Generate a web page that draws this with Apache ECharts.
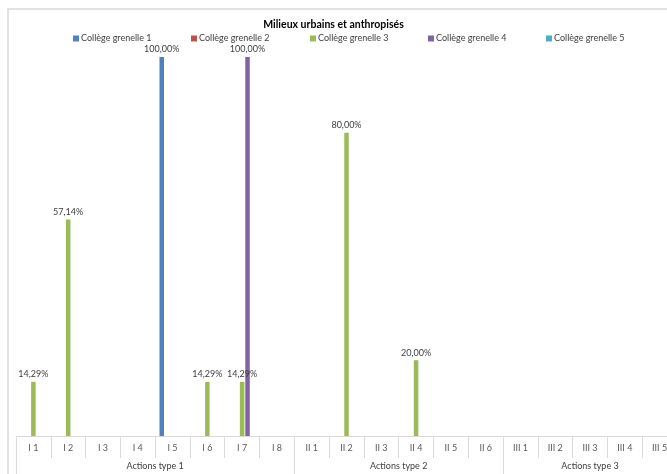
<!DOCTYPE html>
<html>
<head>
<meta charset="utf-8">
<script src="https://cdn.jsdelivr.net/npm/echarts@6/dist/echarts.min.js"></script>
<style>
  html, body { margin: 0; padding: 0; background: #fff; }
  #chart { width: 667px; height: 474px; }
</style>
</head>
<body>
<div id="chart"></div>
<script>
// Action categories along the bottom axis
const categories = ['I 1', 'I 2', 'I 3', 'I 4', 'I 5', 'I 6', 'I 7', 'I 8',
  'II 1', 'II 2', 'II 3', 'II 4', 'II 5', 'II 6',
  'III 1', 'III 2', 'III 3', 'III 4', 'III 5'];

// Action groups: name and number of categories in each
const groupNames = ['Actions type 1', 'Actions type 2', 'Actions type 3'];
const groupSizes = [8, 6, 5];

// Share per school (percent), null where there is no bar
const college1 = [null, null, null, null, 100, null, null, null, null, null, null, null, null, null, null, null, null, null, null];
const college2 = [null, null, null, null, null, null, null, null, null, null, null, null, null, null, null, null, null, null, null];
const college3 = [14.29, 57.14, null, null, null, 14.29, 14.29, null, null, 80, null, 20, null, null, null, null, null, null, null];
const college4 = [null, null, null, null, null, null, 100, null, null, null, null, null, null, null, null, null, null, null, null];
const college5 = [null, null, null, null, null, null, null, null, null, null, null, null, null, null, null, null, null, null, null];

const seriesNames = ['Collège grenelle 1', 'Collège grenelle 2', 'Collège grenelle 3', 'Collège grenelle 4', 'Collège grenelle 5'];
const seriesData = [college1, college2, college3, college4, college5];
const colors = ['#4F81BD', '#C0504D', '#9BBB59', '#8064A2', '#4BACC6'];

// Group boundaries and centres on a 0..N scale
const boundaries = [0];
const centres = [];
groupSizes.forEach(function (n) {
  const start = boundaries[boundaries.length - 1];
  centres.push(start + n / 2);
  boundaries.push(start + n);
});

const FONT = 'Lato, "Open Sans", sans-serif';

// one legend entry per slot, evenly spaced along the top
const LEGEND_LEFT = 73;
const LEGEND_STEP = 118.3;

const chart = echarts.init(document.getElementById('chart'));
chart.setOption({
  backgroundColor: '#ffffff',
  animation: false,
  color: colors,
  graphic: [{
    type: 'rect',
    shape: { x: 8, y: 9, width: 720, height: 520 },
    style: { fill: 'none', stroke: '#d9d9d9', lineWidth: 1.5 },
    silent: true
  }],
  title: {
    text: 'Milieux urbains et anthropisés',
    left: 'center',
    top: 14,
    textStyle: { fontFamily: FONT, fontSize: 10.5, fontWeight: 'bold', color: '#000' }
  },
  legend: seriesNames.map(function (name, i) {
    return {
      top: 34,
      left: Math.round(LEGEND_LEFT + i * LEGEND_STEP),
      padding: 0,
      itemWidth: 6,
      itemHeight: 6,
      icon: 'rect',
      data: [name],
      textStyle: { fontFamily: FONT, fontSize: 9, color: '#404040', padding: [0, 0, 0, -3] }
    };
  }),
  // plot area runs past the right edge of the page
  grid: { left: 16, right: -10, top: 57, bottom: 38, containLabel: false, outerBoundsMode: 'none' },
  xAxis: [{
    type: 'category',
    data: categories,
    boundaryGap: true,
    axisLine: { lineStyle: { color: '#d9d9d9' } },
    axisTick: { show: true, interval: 0, length: 22, lineStyle: { color: '#d9d9d9' } },
    axisLabel: { interval: 0, margin: 8, fontFamily: FONT, fontSize: 9, color: '#595959' },
    splitLine: { show: false }
  }, {
    type: 'value',
    position: 'bottom',
    min: 0,
    max: categories.length,
    axisLine: { show: false },
    splitLine: { show: false },
    axisTick: { show: true, length: 40, customValues: boundaries, lineStyle: { color: '#d9d9d9' } },
    axisLabel: {
      show: true,
      margin: 26,
      customValues: centres,
      fontFamily: FONT,
      fontSize: 9,
      color: '#404040',
      formatter: function (v) {
        const i = centres.indexOf(v);
        return i >= 0 ? groupNames[i] : '';
      }
    }
  }],
  yAxis: { type: 'value', min: 0, max: 100, show: false },
  series: seriesData.map(function (d, i) {
    return {
      name: seriesNames[i],
      type: 'bar',
      xAxisIndex: 0,
      data: d,
      barWidth: 4.5,
      barGap: '20%',
      label: {
        show: true,
        position: 'top',
        distance: 3,
        fontFamily: FONT,
        fontSize: 9,
        color: '#404040',
        formatter: function (p) {
          return p.value == null ? '' : p.value.toFixed(2).replace('.', ',') + '%';
        }
      }
    };
  })
});
</script>
</body>
</html>
